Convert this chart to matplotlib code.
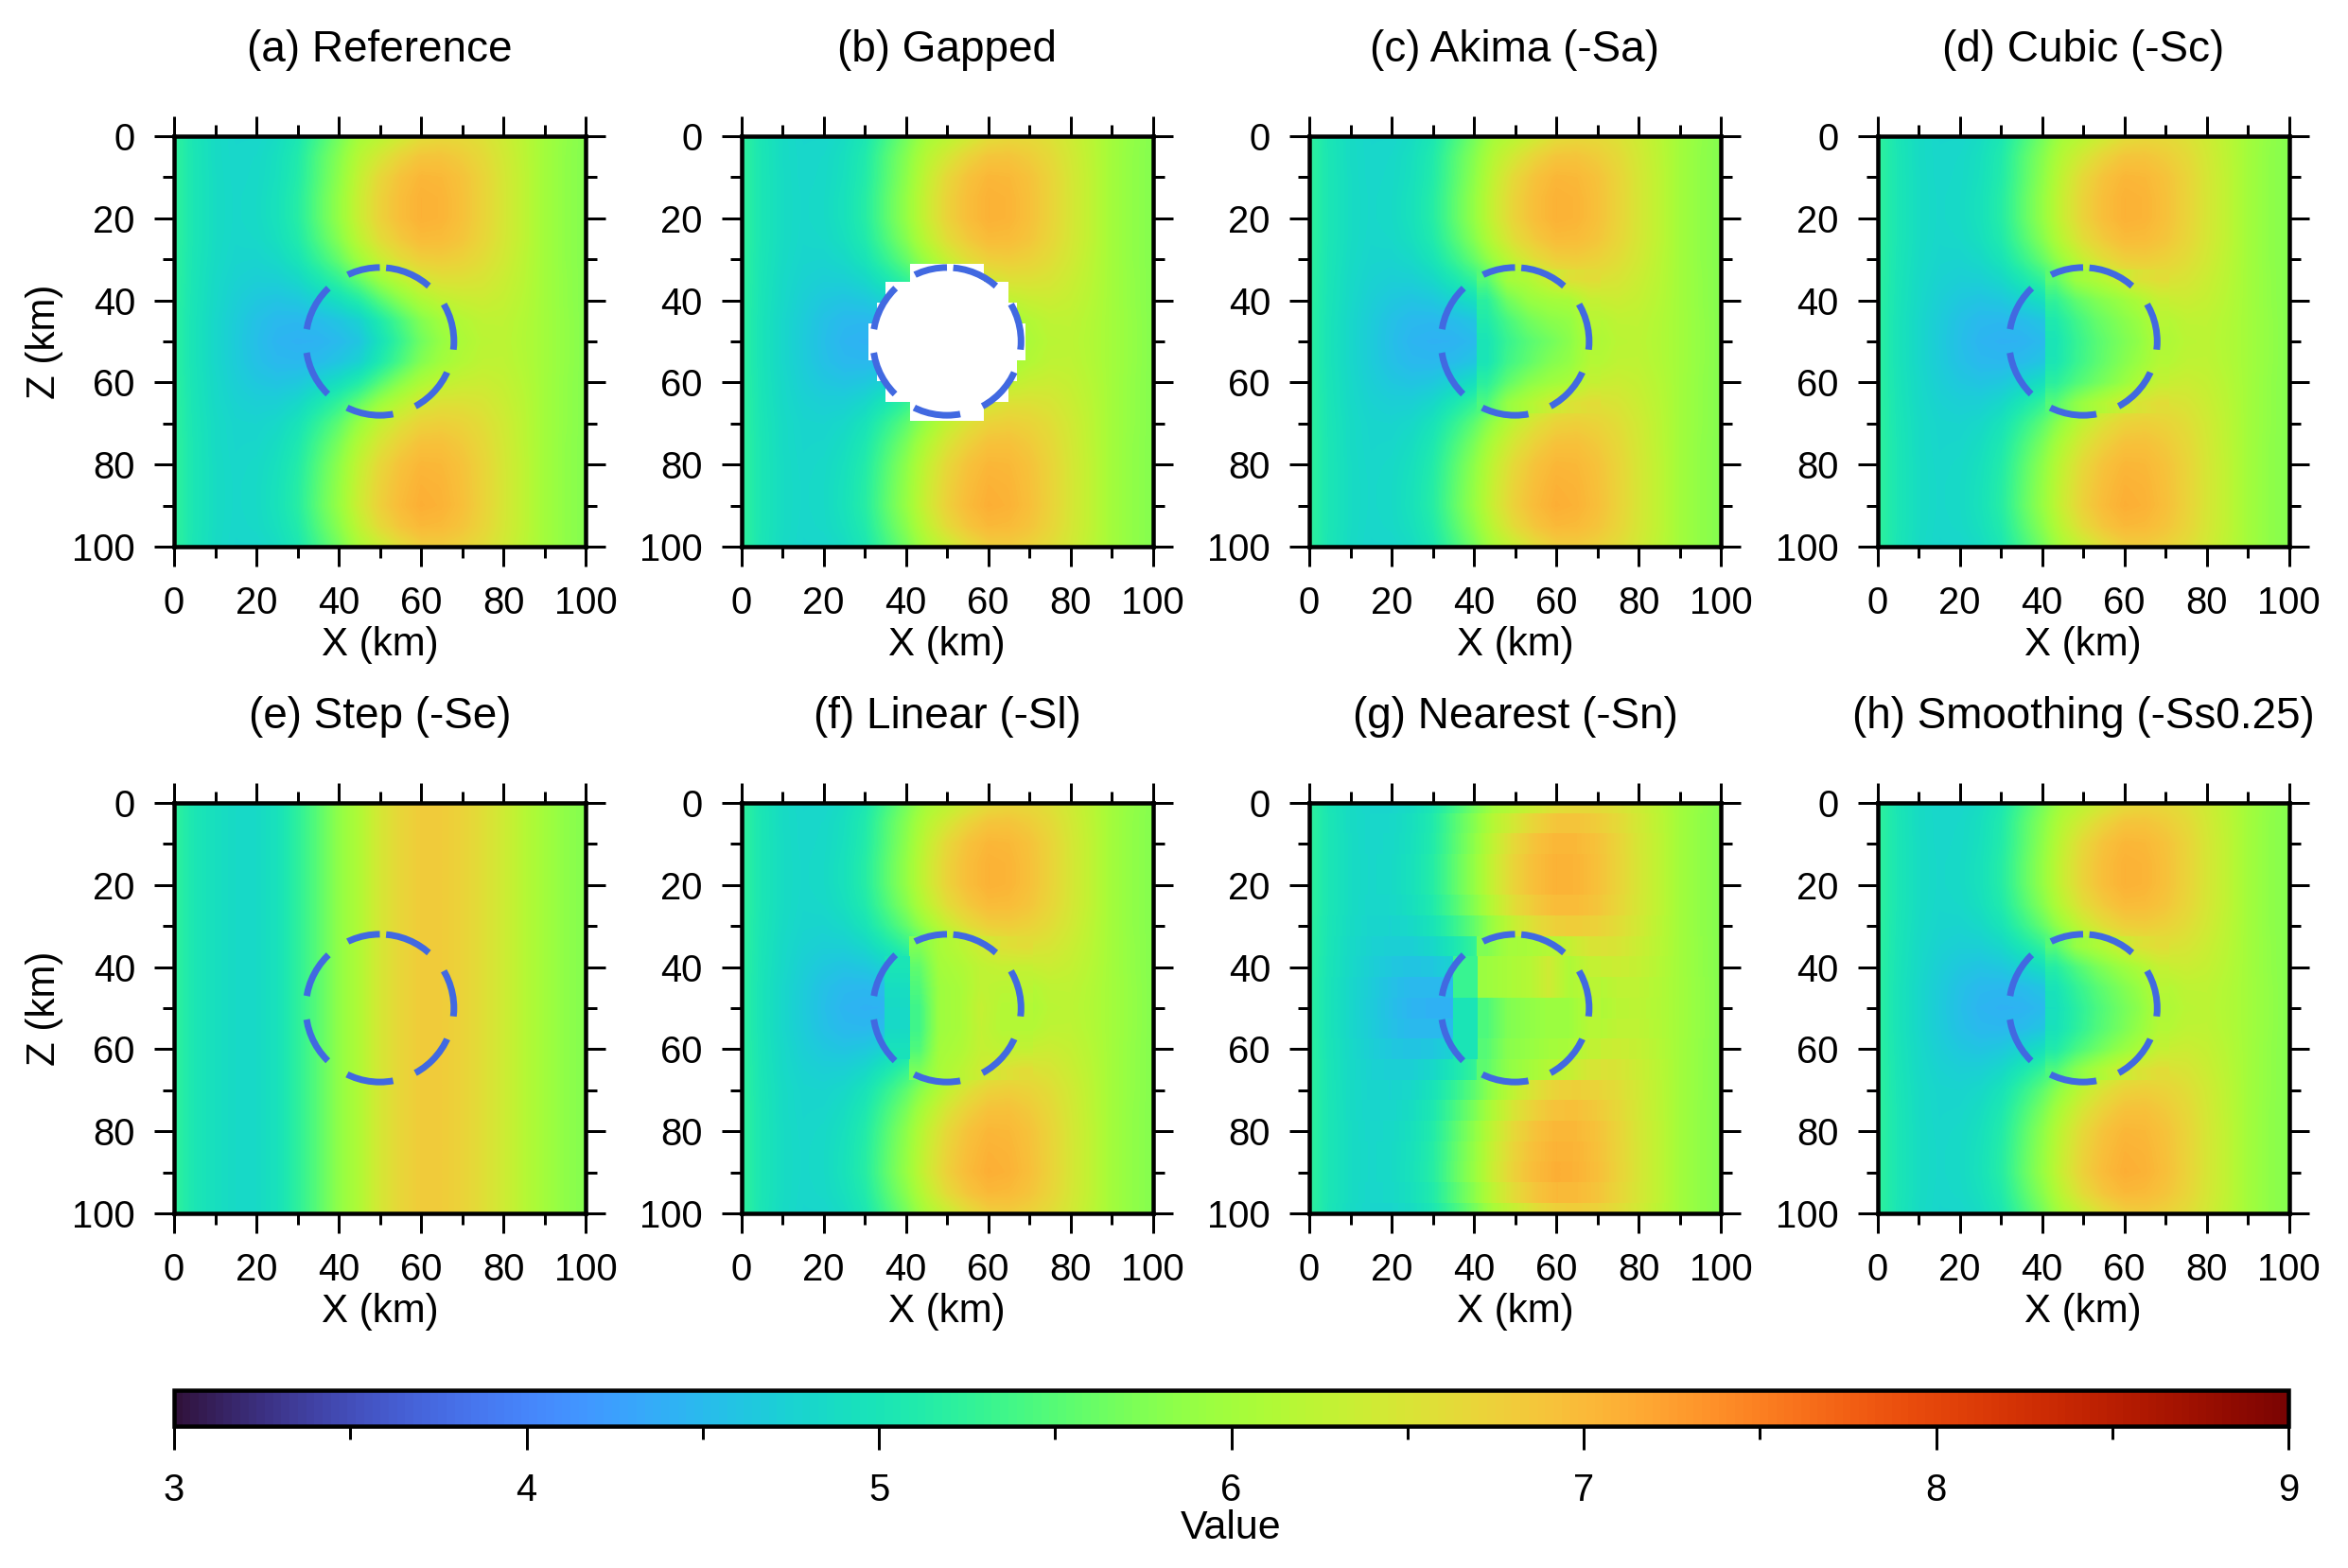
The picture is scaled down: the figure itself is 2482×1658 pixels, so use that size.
import matplotlib
matplotlib.use('Agg')

import matplotlib.pyplot as plt
import numpy as np
from matplotlib.cm import ScalarMappable
from matplotlib.colors import Normalize
from matplotlib.patches import Circle
from matplotlib.ticker import MultipleLocator

plt.rcParams['font.family'] = ['Liberation Sans', 'DejaVu Sans']

W, H = 2482, 1658
DPI = 300

titles = ['(a) Reference', '(b) Gapped', '(c) Akima (-Sa)', '(d) Cubic (-Sc)',
          '(e) Step (-Se)', '(f) Linear (-Sl)', '(g) Nearest (-Sn)', '(h) Smoothing (-Ss0.25)']

# Field: one row per 5 km in Z, one column per 5 km in X
ref_field = np.array([
    [5.25, 5.01, 4.87, 4.80, 4.80, 4.88, 5.04, 5.36, 5.67, 6.02, 6.19, 6.38, 6.58, 6.65, 6.63, 6.54, 6.39, 6.21, 6.00, 5.87, 5.78],
    [5.25, 5.02, 4.87, 4.81, 4.83, 4.92, 5.10, 5.46, 5.78, 6.18, 6.46, 6.71, 6.87, 6.88, 6.79, 6.64, 6.44, 6.23, 6.00, 5.86, 5.78],
    [5.25, 5.02, 4.88, 4.81, 4.84, 4.93, 5.12, 5.48, 5.83, 6.29, 6.66, 6.90, 7.03, 7.01, 6.90, 6.71, 6.47, 6.25, 6.00, 5.86, 5.78],
    [5.25, 5.02, 4.88, 4.82, 4.85, 4.95, 5.15, 5.52, 5.88, 6.35, 6.72, 6.95, 7.08, 7.05, 6.92, 6.72, 6.48, 6.25, 6.00, 5.86, 5.78],
    [5.25, 5.02, 4.88, 4.82, 4.85, 4.95, 5.15, 5.52, 5.88, 6.35, 6.72, 6.95, 7.08, 7.05, 6.92, 6.72, 6.48, 6.25, 6.00, 5.86, 5.78],
    [5.25, 5.02, 4.88, 4.81, 4.83, 4.92, 5.10, 5.44, 5.78, 6.23, 6.60, 6.83, 6.98, 6.97, 6.87, 6.69, 6.47, 6.25, 6.00, 5.86, 5.78],
    [5.24, 5.01, 4.87, 4.79, 4.78, 4.84, 4.99, 5.28, 5.58, 5.97, 6.33, 6.59, 6.76, 6.79, 6.73, 6.60, 6.43, 6.22, 6.00, 5.86, 5.78],
    [5.24, 5.00, 4.85, 4.76, 4.72, 4.73, 4.82, 5.03, 5.26, 5.57, 5.93, 6.20, 6.44, 6.54, 6.54, 6.49, 6.36, 6.20, 6.00, 5.87, 5.78],
    [5.23, 4.99, 4.84, 4.72, 4.64, 4.60, 4.64, 4.76, 4.91, 5.13, 5.48, 5.80, 6.08, 6.25, 6.33, 6.36, 6.30, 6.17, 6.00, 5.87, 5.78],
    [5.22, 4.98, 4.82, 4.69, 4.57, 4.49, 4.48, 4.52, 4.61, 4.75, 5.08, 5.42, 5.76, 5.99, 6.14, 6.24, 6.24, 6.14, 6.00, 5.88, 5.78],
    [5.22, 4.98, 4.82, 4.68, 4.55, 4.45, 4.42, 4.43, 4.50, 4.62, 4.95, 5.30, 5.65, 5.90, 6.08, 6.20, 6.22, 6.13, 6.00, 5.88, 5.78],
    [5.22, 4.98, 4.82, 4.69, 4.57, 4.49, 4.48, 4.52, 4.61, 4.75, 5.08, 5.42, 5.76, 5.99, 6.14, 6.24, 6.24, 6.14, 6.00, 5.88, 5.78],
    [5.23, 4.99, 4.84, 4.72, 4.64, 4.60, 4.64, 4.76, 4.91, 5.13, 5.48, 5.80, 6.08, 6.25, 6.33, 6.36, 6.30, 6.17, 6.00, 5.87, 5.78],
    [5.24, 5.00, 4.85, 4.76, 4.72, 4.73, 4.82, 5.03, 5.26, 5.57, 5.93, 6.20, 6.44, 6.54, 6.54, 6.49, 6.36, 6.20, 6.00, 5.87, 5.78],
    [5.24, 5.01, 4.87, 4.79, 4.78, 4.83, 4.97, 5.25, 5.54, 5.92, 6.28, 6.54, 6.72, 6.76, 6.71, 6.59, 6.42, 6.22, 6.00, 5.87, 5.78],
    [5.25, 5.02, 4.87, 4.80, 4.81, 4.89, 5.06, 5.39, 5.71, 6.14, 6.50, 6.75, 6.91, 6.92, 6.82, 6.66, 6.45, 6.23, 6.00, 5.86, 5.78],
    [5.25, 5.02, 4.88, 4.81, 4.84, 4.93, 5.12, 5.48, 5.83, 6.29, 6.66, 6.90, 7.03, 7.01, 6.90, 6.71, 6.47, 6.25, 6.00, 5.86, 5.78],
    [5.25, 5.02, 4.88, 4.82, 4.85, 4.95, 5.15, 5.52, 5.88, 6.35, 6.72, 6.95, 7.08, 7.05, 6.92, 6.72, 6.48, 6.25, 6.00, 5.86, 5.78],
    [5.25, 5.02, 4.88, 4.82, 4.85, 4.96, 5.16, 5.54, 5.90, 6.38, 6.75, 6.98, 7.11, 7.07, 6.94, 6.73, 6.48, 6.25, 6.00, 5.86, 5.78],
    [5.25, 5.02, 4.88, 4.81, 4.84, 4.93, 5.11, 5.47, 5.81, 6.26, 6.63, 6.87, 7.01, 6.99, 6.88, 6.70, 6.47, 6.25, 6.00, 5.86, 5.78],
    [5.25, 5.01, 4.87, 4.80, 4.80, 4.88, 5.04, 5.36, 5.67, 6.07, 6.33, 6.59, 6.76, 6.79, 6.73, 6.60, 6.43, 6.22, 6.00, 5.86, 5.78],
])

# Step panel has the same values on every row
step_profile = [5.25, 5.03, 4.92, 4.85, 4.85, 4.95, 5.22, 5.52, 5.85, 6.12, 6.45, 6.68, 6.80,
                6.80, 6.72, 6.58, 6.40, 6.18, 6.00, 5.85, 5.78]

# Hole fill, right of the break at X = 41: rows Z 35..65, columns X 42.5..67.5
akima_fill = [
    [5.50, 6.00, 6.12, 6.35, 6.55, 6.60],
    [5.20, 5.65, 5.90, 6.00, 6.05, 6.30],
    [5.10, 5.40, 5.65, 5.80, 5.88, 6.18],
    [5.00, 5.30, 5.50, 5.65, 5.82, 6.12],
    [5.00, 5.35, 5.55, 5.75, 5.88, 6.15],
    [5.20, 5.55, 5.80, 5.95, 6.05, 6.30],
    [5.45, 5.90, 6.12, 6.35, 6.52, 6.60],
]
cubic_fill = [
    [5.55, 5.95, 6.10, 6.30, 6.52, 6.60],
    [5.25, 5.55, 5.75, 5.90, 6.08, 6.30],
    [5.08, 5.35, 5.58, 5.75, 5.92, 6.18],
    [5.00, 5.28, 5.50, 5.68, 5.85, 6.12],
    [5.02, 5.30, 5.52, 5.72, 5.92, 6.15],
    [5.20, 5.45, 5.65, 5.85, 6.08, 6.30],
    [5.50, 5.85, 6.08, 6.30, 6.50, 6.60],
]
linear_fill = [
    [5.75, 6.05, 6.20, 6.38, 6.55, 6.60],
    [5.55, 6.00, 6.10, 6.25, 6.30, 6.30],
    [5.45, 5.95, 6.05, 6.25, 6.20, 6.20],
    [5.35, 5.95, 6.05, 6.30, 6.15, 6.15],
    [5.35, 5.95, 6.05, 6.28, 6.15, 6.15],
    [5.45, 6.00, 6.10, 6.30, 6.25, 6.28],
    [5.70, 6.05, 6.20, 6.38, 6.52, 6.60],
]
smooth_fill = [
    [5.50, 5.90, 6.08, 6.30, 6.52, 6.60],
    [5.15, 5.45, 5.70, 5.90, 6.08, 6.30],
    [4.98, 5.26, 5.50, 5.70, 5.90, 6.18],
    [4.92, 5.18, 5.42, 5.62, 5.82, 6.12],
    [4.95, 5.20, 5.45, 5.65, 5.88, 6.15],
    [5.10, 5.40, 5.62, 5.85, 6.05, 6.30],
    [5.45, 5.80, 6.05, 6.30, 6.50, 6.60],
]
# Nearest panel: each row keeps its own flat band
nearest_fill = [
    [5.75, 6.00, 6.05, 6.15, 6.30, 6.50],
    [5.95, 6.05, 6.15, 6.40, 6.10, 6.30],
    [5.95, 6.05, 6.15, 6.40, 6.10, 6.20],
    [5.45, 5.75, 5.85, 5.95, 5.95, 6.18],
    [5.45, 5.75, 5.85, 5.95, 5.95, 6.18],
    [5.50, 5.80, 5.90, 6.00, 6.05, 6.28],
    [5.55, 5.85, 6.00, 6.15, 6.30, 6.48],
]
fill_z = [35, 40, 45, 50, 55, 60, 65]

# Narrow columns between X = 35 and X = 41 (rows Z 40..60)
linear_strip = [5.00, 4.90, 4.85, 4.85, 4.95]
nearest_strip = [5.30, 5.30, 5.00, 5.00, 5.00]
strip_z = [40, 45, 50, 55, 60]

# Blanked nodes of the gapped panel
gap_top = [31.0, 35.5, 40.6, 45.7, 54.6, 59.6, 64.7]
gap_bottom = [35.5, 40.6, 45.7, 54.6, 59.6, 64.7, 69.4]
gap_left = [41, 35, 33, 31, 33, 35, 41]
gap_right = [59, 65, 67, 69, 67, 65, 59]

panel_left = [184, 783.5, 1384, 1984.5]
panel_top = [144, 849]
PANEL_W, PANEL_H = 435, 434


def px_axes(fig, left, top, width, height):
    return fig.add_axes([left / W, 1 - (top + height) / H, width / W, height / H])


def px(n):
    # pixels to points
    return n * 72 / DPI


def show(ax, values, extent):
    ax.imshow(values, cmap='turbo', vmin=3, vmax=9, extent=extent, aspect='auto',
              interpolation='bilinear', zorder=1)


def draw_nearest(ax):
    # one flat band per 5 km in Z, smooth along X
    for i, z in enumerate(np.arange(0, 101, 5)):
        show(ax, ref_field[i][None, :], (-2.5, 102.5, z + 2.5, z - 2.5))
    for row, z in zip(nearest_fill, fill_z):
        show(ax, np.array(row)[None, :], (40.8, 70.8, z + 2.5, z - 2.5))
    for v, z in zip(nearest_strip, strip_z):
        show(ax, [[v, v]], (34.9, 40.8, z + 2.5, z - 2.5))


fig = plt.figure(figsize=(W / DPI, H / DPI), dpi=DPI)

panel_fill = {2: akima_fill, 3: cubic_fill, 5: linear_fill, 7: smooth_fill}

for i, title in enumerate(titles):
    ax = px_axes(fig, panel_left[i % 4], panel_top[i // 4], PANEL_W, PANEL_H)

    if i == 4:
        show(ax, np.tile(step_profile, (21, 1)), (-2.5, 102.5, 102.5, -2.5))
    elif i == 6:
        draw_nearest(ax)
    else:
        show(ax, ref_field, (-2.5, 102.5, 102.5, -2.5))

    if i in panel_fill:
        show(ax, np.array(panel_fill[i]), (40.8, 70.8, 67.5, 32.5))
    if i == 5:
        show(ax, np.array(linear_strip)[:, None].repeat(2, axis=1), (34.8, 40.8, 62.5, 37.5))
    if i == 1:
        ax.bar(gap_left, np.subtract(gap_bottom, gap_top), np.subtract(gap_right, gap_left),
               bottom=gap_top, align='edge', color='white', zorder=2)

    # Circle path starts at the top of the screen, offset puts the dash start at the right
    ax.add_patch(Circle((50, 50), 18, fill=False, ec='#4169E1', lw=px(7),
                        ls=(9.76, (7.14, 3.57)), zorder=5))

    ax.set_xlim(0, 100)
    ax.set_ylim(100, 0)
    ax.xaxis.set_major_locator(MultipleLocator(20))
    ax.xaxis.set_minor_locator(MultipleLocator(10))
    ax.yaxis.set_major_locator(MultipleLocator(20))
    ax.yaxis.set_minor_locator(MultipleLocator(10))
    ax.tick_params(which='major', direction='out', top=True, right=True, length=px(21),
                   width=px(3), labelsize=9.6, pad=px(20))
    ax.tick_params(which='minor', direction='out', top=True, right=True, length=px(12), width=px(3))
    for spine in ax.spines.values():
        spine.set_linewidth(px(4.5))
    ax.set_xlabel('X (km)', fontsize=10.1, labelpad=px(5))
    if i % 4 == 0:
        ax.set_ylabel('Z (km)', fontsize=10.1, labelpad=px(9))
    ax.set_title(title, fontsize=11, pad=px(79))

cax = px_axes(fig, 184, 1470, 2235, 38)
cbar = fig.colorbar(ScalarMappable(Normalize(3, 9), 'turbo'), cax=cax, orientation='horizontal')
cbar.set_ticks(range(3, 10))
cax.xaxis.set_minor_locator(MultipleLocator(0.5))
cax.tick_params(which='major', length=px(25), width=px(3), labelsize=9.6, pad=px(24))
cax.tick_params(which='minor', length=px(14), width=px(3))
cbar.outline.set_linewidth(px(4.5))
cax.set_xlabel('Value', fontsize=10.3, labelpad=px(1))

fig.savefig('out.png', dpi=DPI)
